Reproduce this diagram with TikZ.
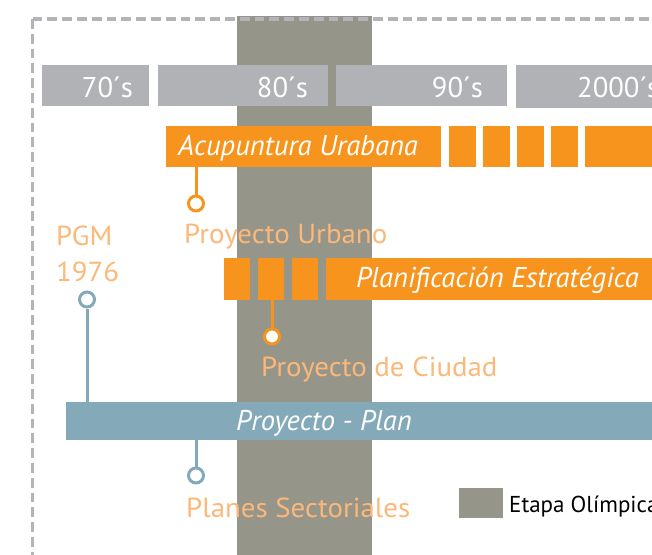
\documentclass[tikz,border=0pt]{standalone}
\usepackage{fontspec}
\setmainfont{PT Sans}
\newfontfamily\lblfam[FakeStretch=1.05]{PT Sans}
\definecolor{band}{RGB}{150,149,138}
\definecolor{dec}{RGB}{177,178,181}
\definecolor{org}{RGB}{247,148,30}
\definecolor{lorg}{RGB}{251,184,121}
\definecolor{blu}{RGB}{132,169,185}
\definecolor{brd}{RGB}{180,180,184}
\newcommand\mkbox[6]{\node[#6, minimum width={(#4-#2)*1pt}, minimum height={(#5-#3)*1pt}] (#1) at ({(#2+#4)/2},{(#3+#5)/2}) {};}
\tikzset{
  boxbase/.style={inner sep=0pt, outer sep=0pt, draw=none, rectangle},
  decbox/.style={boxbase, fill=dec},
  orgbox/.style={boxbase, fill=org},
  blubox/.style={boxbase, fill=blu},
  bandbox/.style={boxbase, fill=band},
  decfont/.style={text=white, font=\fontsize{28.6}{30}\selectfont, inner sep=0pt, anchor=base west},
  barfont/.style={text=white, font=\fontsize{28.6}{30}\selectfont\itshape, inner sep=0pt, anchor=base west},
  lblfont/.style={text=lorg, font=\lblfam\fontsize{27.5}{29}\selectfont, inner sep=0pt, anchor=base west},
  ocirc/.style={circle, draw=org, line width=3pt, fill=white, minimum size=15pt, inner sep=0pt},
  bcirc/.style={circle, draw=blu, line width=3pt, fill=white, minimum size=15pt, inner sep=0pt},
  oline/.style={draw=org, line width=3pt},
  bline/.style={draw=blu, line width=3pt},
}
\begin{document}
\begin{tikzpicture}[x=1pt, y=-1pt]
\useasboundingbox (0,0) rectangle (652,554);
\clip (0,0) rectangle (652,554);
% olympic band
\mkbox{band}{237}{16}{372}{560}{bandbox}
% dashed border
\coordinate (corner) at (32.5,19);
\coordinate (brdR) at (660,19);
\coordinate (brdB) at (32.5,560);
\draw[brd, line width=3.3pt, dash pattern=on 9.8pt off 5pt] (corner) -- (brdR);
\draw[brd, line width=3.3pt, dash pattern=on 9.8pt off 5pt] (corner) -- (brdB);
% decades
\mkbox{d70}{42}{65}{149}{106}{decbox}
\mkbox{d80}{158}{65}{328}{106}{decbox}
\mkbox{d90}{336}{65}{507}{106}{decbox}
\mkbox{d00}{516}{65}{660}{108}{decbox}
\node[decfont, anchor=base east] (t70) at (133,97) {70´s};
\node[decfont, anchor=base east] (t80) at (308,97) {80´s};
\node[decfont, anchor=base east] (t90) at (483,97) {90´s};
\node[decfont] (t00) at (577,97) {2000´s};
% Acupuntura bar
\mkbox{acu}{166}{126}{441}{167}{orgbox}
\mkbox{acuA}{449}{126}{476}{167}{orgbox}
\mkbox{acuB}{483}{126}{510}{167}{orgbox}
\mkbox{acuC}{517}{126}{544}{167}{orgbox}
\mkbox{acuD}{551}{126}{578}{167}{orgbox}
\mkbox{acuE}{585}{126}{660}{167}{orgbox}
\node[barfont] (tacu) at (178,155) {Acupuntura Urabana};
% Planificacion bar
\mkbox{plA}{224}{258}{250}{300}{orgbox}
\mkbox{plB}{258}{258}{284}{300}{orgbox}
\mkbox{plC}{292}{258}{318}{300}{orgbox}
\mkbox{pl}{326}{258}{660}{300}{orgbox}
\node[barfont, anchor=base east] (tpl) at (639,287) {Planificación Estratégica};
% Proyecto - Plan bar
\mkbox{pp}{66}{402}{660}{440}{blubox}
\node[barfont] (tpp) at (236,430) {Proyecto - Plan};
% connectors and circles
\node[ocirc] (cU) at (196,203.5) {};
\draw[oline] (cU.north) -- (cU.north |- acu.south);
\node[ocirc] (cC) at (272,336.5) {};
\draw[oline] (cC.north) -- (cC.north |- plB.south);
\node[bcirc] (cG) at (87,299.5) {};
\draw[bline] (cG.south) -- (cG.south |- pp.north);
\node[bcirc] (cS) at (196,475.5) {};
\draw[bline] (cS.north) -- (cS.north |- pp.south);
% labels
\node[lblfont] (lU) at (184,243) {Proyecto Urbano};
\node[lblfont] (lG1) at (56,245) {PGM};
\node[lblfont] (lG2) at (56,281) {1976};
\node[lblfont] (lC) at (261,376) {Proyecto de Ciudad};
\node[lblfont] (lS) at (186,517) {Planes Sectoriales};
% legend
\mkbox{leg}{459}{488}{503}{518}{bandbox}
\node[inner sep=0pt, anchor=base west, font=\fontsize{23}{25}\selectfont] (tleg) at (509,512) {Etapa Olímpica};
\end{tikzpicture}
\end{document}
